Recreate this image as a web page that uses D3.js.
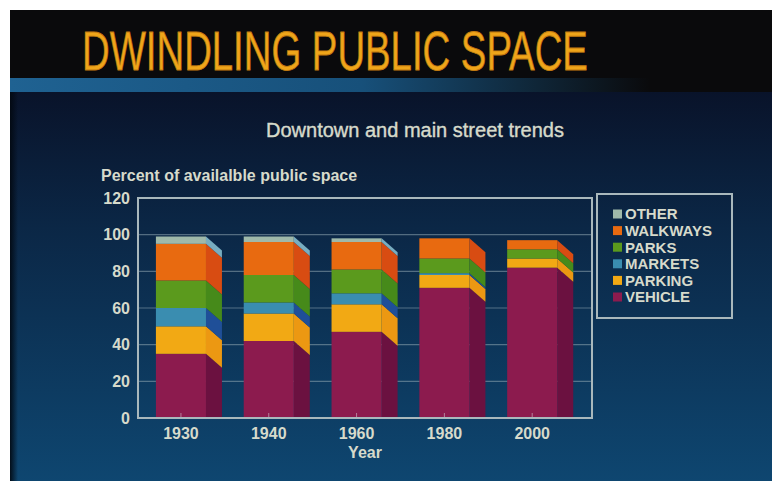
<!DOCTYPE html>
<html>
<head>
<meta charset="utf-8">
<script src="https://d3js.org/d3.v7.min.js"></script>
<style>
  html, body { margin: 0; padding: 0; background: #fff; }
  svg { display: block; }
  text { font-family: "Liberation Sans", Arial, Helvetica, sans-serif; }
</style>
</head>
<body>
<div id="chart"></div>
<script>
// Downtown and main street trends — share of public space by use
const years = ['1930', '1940', '1960', '1980', '2000'];
const vehicle  = [35, 42, 47, 71, 82];
const parking  = [15, 15, 15, 7, 5];
const markets  = [10, 6, 6, 1, 0];
const parks    = [15, 15, 13, 8, 5];
const walkways = [20, 18, 15, 11, 5];
const other    = [4, 3, 2, 0, 0];
const yTicks = [0, 20, 40, 60, 80, 100, 120];

const seriesKeys = ['VEHICLE', 'PARKING', 'MARKETS', 'PARKS', 'WALKWAYS', 'OTHER'];
const seriesVals = [vehicle, parking, markets, parks, walkways, other];

const frontColor = {
  VEHICLE: '#8c1b4e', PARKING: '#f2a914', MARKETS: '#3a8db0',
  PARKS: '#5b9a1d', WALKWAYS: '#e86a10', OTHER: '#9fb9aa'
};
const sideColor = {
  VEHICLE: '#6b1140', PARKING: '#ec9812', MARKETS: '#1f4f98',
  PARKS: '#468a1a', WALKWAYS: '#d84c12', OTHER: '#78adc0'
};

const W = 772, H = 481;
const svg = d3.select('#chart').append('svg').attr('width', W).attr('height', H);
const defs = svg.append('defs');

// background
const bg = defs.append('linearGradient').attr('id', 'bg').attr('x1', 0).attr('y1', 0).attr('x2', 0).attr('y2', 1);
bg.append('stop').attr('offset', '0%').attr('stop-color', '#09132a');
bg.append('stop').attr('offset', '35%').attr('stop-color', '#0b2746');
bg.append('stop').attr('offset', '100%').attr('stop-color', '#0e4670');

const stripe = defs.append('linearGradient').attr('id', 'stripe');
stripe.append('stop').attr('offset', '0%').attr('stop-color', '#1f6292');
stripe.append('stop').attr('offset', '55%').attr('stop-color', '#17507a');
stripe.append('stop').attr('offset', '100%').attr('stop-color', '#17507a').attr('stop-opacity', 0);

const edge = defs.append('linearGradient').attr('id', 'edge');
edge.append('stop').attr('offset', '0%').attr('stop-color', '#020810').attr('stop-opacity', 0.9);
edge.append('stop').attr('offset', '100%').attr('stop-color', '#020810').attr('stop-opacity', 0);

svg.append('rect').attr('width', W).attr('height', H).attr('fill', '#ffffff');
svg.append('rect').attr('x', 10).attr('y', 10).attr('width', W - 10).attr('height', 82).attr('fill', '#0a0a0c');
svg.append('rect').attr('x', 10).attr('y', 92).attr('width', W - 10).attr('height', H - 92).attr('fill', 'url(#bg)');
svg.append('rect').attr('x', 10).attr('y', 78).attr('width', 640).attr('height', 14).attr('fill', 'url(#stripe)');
svg.append('rect').attr('x', 10).attr('y', 92).attr('width', 8).attr('height', H - 92).attr('fill', 'url(#edge)');

// title: condensed by squeezing horizontally to the reference width
const title = svg.append('text')
  .attr('font-size', 56)
  .attr('fill', '#efa51a')
  .attr('stroke', '#c07a10').attr('stroke-width', 0.8)
  .text('DWINDLING PUBLIC SPACE');
const sx = 506 / title.node().getComputedTextLength();
title.attr('transform', 'translate(82,70) scale(' + sx + ',1)');

svg.append('text')
  .attr('x', 415).attr('y', 137)
  .attr('text-anchor', 'middle')
  .attr('font-size', 20)
  .attr('fill', '#d6dacb')
  .attr('stroke', '#d6dacb').attr('stroke-width', 0.4)
  .text('Downtown and main street trends');

svg.append('text')
  .attr('x', 101).attr('y', 181)
  .attr('font-size', 16).attr('font-weight', 'bold')
  .attr('fill', '#d6dacb')
  .text('Percent of availalble public space');

// scales
const plot = { left: 138, right: 592, top: 198, bottom: 418 };
const x = d3.scaleBand().domain(years)
  .range([plot.left, plot.right])
  .paddingInner(0.43).paddingOuter(0.3).align(0.34);
const y = d3.scaleLinear().domain([0, 120]).range([plot.bottom, plot.top]);

const table = years.map((yr, i) => {
  const row = { year: yr };
  seriesKeys.forEach((k, j) => row[k] = seriesVals[j][i]);
  return row;
});
const stack = d3.stack().keys(seriesKeys)(table);

// gridlines
svg.append('g')
  .selectAll('line')
  .data(yTicks.filter(t => t > 0 && t < 120))
  .join('line')
  .attr('x1', plot.left).attr('x2', plot.right)
  .attr('y1', d => y(d)).attr('y2', d => y(d))
  .attr('stroke', '#8fa6b0').attr('stroke-opacity', 0.55).attr('stroke-width', 1.2);

// bars
const depthX = 16, depthY = 14;
defs.append('clipPath').attr('id', 'base')
  .append('rect').attr('x', 0).attr('y', 0).attr('width', W).attr('height', plot.bottom);

const bars = svg.append('g').attr('clip-path', 'url(#base)');
stack.forEach(layer => {
  const key = layer.key;
  const g = bars.append('g');
  g.selectAll('polygon')
    .data(layer.filter(d => d[1] > d[0]))
    .join('polygon')
    .attr('points', d => {
      const xr = x(d.data.year) + x.bandwidth();
      const y1 = y(d[1]), y0 = y(d[0]);
      return [[xr, y1], [xr + depthX, y1 + depthY], [xr + depthX, y0 + depthY], [xr, y0]].join(' ');
    })
    .attr('fill', sideColor[key]);
  g.selectAll('rect')
    .data(layer.filter(d => d[1] > d[0]))
    .join('rect')
    .attr('x', d => x(d.data.year))
    .attr('width', x.bandwidth())
    .attr('y', d => y(d[1]))
    .attr('height', d => y(d[0]) - y(d[1]))
    .attr('fill', frontColor[key]);
});

// small ticks at bar centres
svg.append('g')
  .selectAll('line')
  .data(years)
  .join('line')
  .attr('x1', d => x(d) + x.bandwidth() / 2).attr('x2', d => x(d) + x.bandwidth() / 2)
  .attr('y1', plot.bottom).attr('y2', plot.bottom - 5)
  .attr('stroke', '#d0c8d0').attr('stroke-opacity', 0.6);

// frame
svg.append('rect')
  .attr('x', plot.left).attr('y', plot.top)
  .attr('width', plot.right - plot.left).attr('height', plot.bottom - plot.top)
  .attr('fill', 'none').attr('stroke', '#a9b8bc').attr('stroke-width', 2);

// y tick labels
svg.append('g')
  .selectAll('text')
  .data(yTicks)
  .join('text')
  .attr('x', 130).attr('y', d => y(d)).attr('dy', '0.35em')
  .attr('text-anchor', 'end')
  .attr('font-size', 16).attr('font-weight', 'bold')
  .attr('fill', '#d6dacb')
  .text(d => d);

// x tick labels
svg.append('g')
  .selectAll('text')
  .data(years)
  .join('text')
  .attr('x', d => x(d) + x.bandwidth() / 2).attr('y', 439)
  .attr('text-anchor', 'middle')
  .attr('font-size', 16).attr('font-weight', 'bold')
  .attr('fill', '#d6dacb')
  .text(d => d);

svg.append('text')
  .attr('x', (plot.left + plot.right) / 2).attr('y', 458)
  .attr('text-anchor', 'middle')
  .attr('font-size', 16).attr('font-weight', 'bold')
  .attr('fill', '#d6dacb')
  .text('Year');

// legend
const legend = svg.append('g');
legend.append('rect')
  .attr('x', 597).attr('y', 194).attr('width', 135).attr('height', 124)
  .attr('fill', 'none').attr('stroke', '#a9b8bc').attr('stroke-width', 2);
const legendKeys = seriesKeys.slice().reverse();
const ly = d3.scalePoint().domain(legendKeys).range([214, 297]);
const item = legend.selectAll('g.item')
  .data(legendKeys)
  .join('g').attr('class', 'item')
  .attr('transform', d => 'translate(0,' + ly(d) + ')');
item.append('rect')
  .attr('x', 613).attr('y', -4.5).attr('width', 9).attr('height', 9)
  .attr('fill', d => frontColor[d]);
item.append('text')
  .attr('x', 625).attr('dy', '0.36em')
  .attr('font-size', 15).attr('font-weight', 'bold')
  .attr('fill', '#d6dacb')
  .text(d => d);
</script>
</body>
</html>
